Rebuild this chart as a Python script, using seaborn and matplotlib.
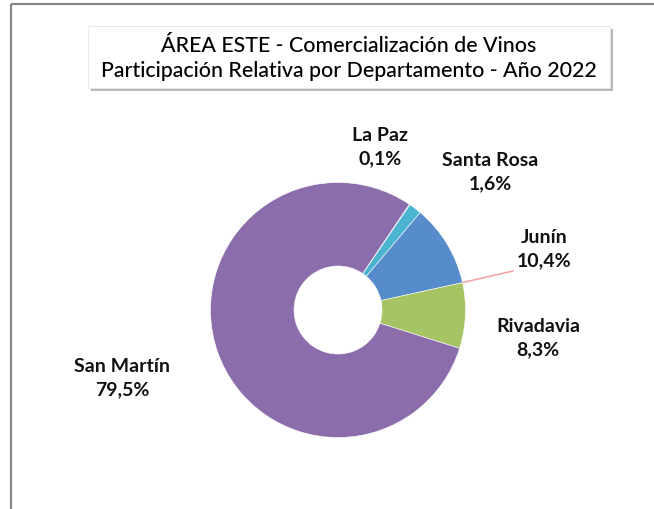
import numpy as np
import matplotlib
matplotlib.use("Agg")
import matplotlib.pyplot as plt
import matplotlib.patches as mpatches
import matplotlib.patheffects as pe
import seaborn as sns

# data
departamentos = ["La Paz", "Santa Rosa", "Junín", "Rivadavia", "San Martín"]
participacion = [0.1, 1.6, 10.4, 8.3, 79.5]
etiquetas = ["0,1%", "1,6%", "10,4%", "8,3%", "79,5%"]
colores = ["#C0504D", "#4BB5D1", "#568CCB", "#A6C463", "#8B6DAB"]

titulo = "ÁREA ESTE - Comercialización de Vinos\nParticipación Relativa por Departamento - Año 2022"

sns.set_theme(style="white")
plt.rcParams["font.family"] = ["Lato", "DejaVu Sans"]

W, H = 654, 510
fig = plt.figure(figsize=(W / 100, H / 100), dpi=100)
ax = fig.add_axes([0, 0, 1, 1])
ax.set_xlim(0, W)
ax.set_ylim(0, H)
ax.set_aspect("equal")
ax.axis("off")

def py(y):
    # pixel row from top -> data y
    return H - y

# border (top and left)
ax.plot([11, W], [py(5), py(5)], color="#868686", lw=1.6, solid_capstyle="butt")
ax.plot([11, 11], [py(5), 0], color="#868686", lw=1.6, solid_capstyle="butt")

# title box with shadow
box = mpatches.Rectangle((88, py(89)), 522, 62, facecolor="white",
                         edgecolor="#E6E6E6", lw=0.6, zorder=3)
box.set_path_effects([pe.SimplePatchShadow(offset=(2.5, -2.5), shadow_rgbFace="#808080",
                                           alpha=0.55), pe.Normal()])
ax.add_patch(box)
ax.text(349, py(58.5), titulo, ha="center", va="center", fontsize=15.4,
        fontweight="medium", linespacing=1.3, color="#000000", zorder=4)

# donut
cx, cy, R, r = 338, py(311), 127.5, 44
ax.pie(participacion, colors=colores, startangle=56, counterclock=False,
       center=(cx, cy), radius=R, frame=True,
       wedgeprops=dict(width=R - r, edgecolor="white", linewidth=0.4))
ax.set_xlim(0, W)
ax.set_ylim(0, H)
ax.axis("off")

# labels
pos = {"La Paz": (380, 147), "Santa Rosa": (490, 172), "Junín": (544, 249),
       "Rivadavia": (538, 338), "San Martín": (122, 378)}
for nombre, lab in zip(departamentos, etiquetas):
    x, y = pos[nombre]
    ax.text(x, py(y), f"{nombre}\n{lab}", ha="center", va="center",
            fontsize=14, fontweight="bold", linespacing=1.42, color="#111111")

# leader line for Junín
ang = np.deg2rad(56 - 3.6 * (participacion[0] + participacion[1] + participacion[2]))
ax.plot([cx + R * np.cos(ang), 513], [cy + R * np.sin(ang), py(272)],
        color="#F2A7A7", lw=1.2)

fig.savefig("out.png", dpi=100)
